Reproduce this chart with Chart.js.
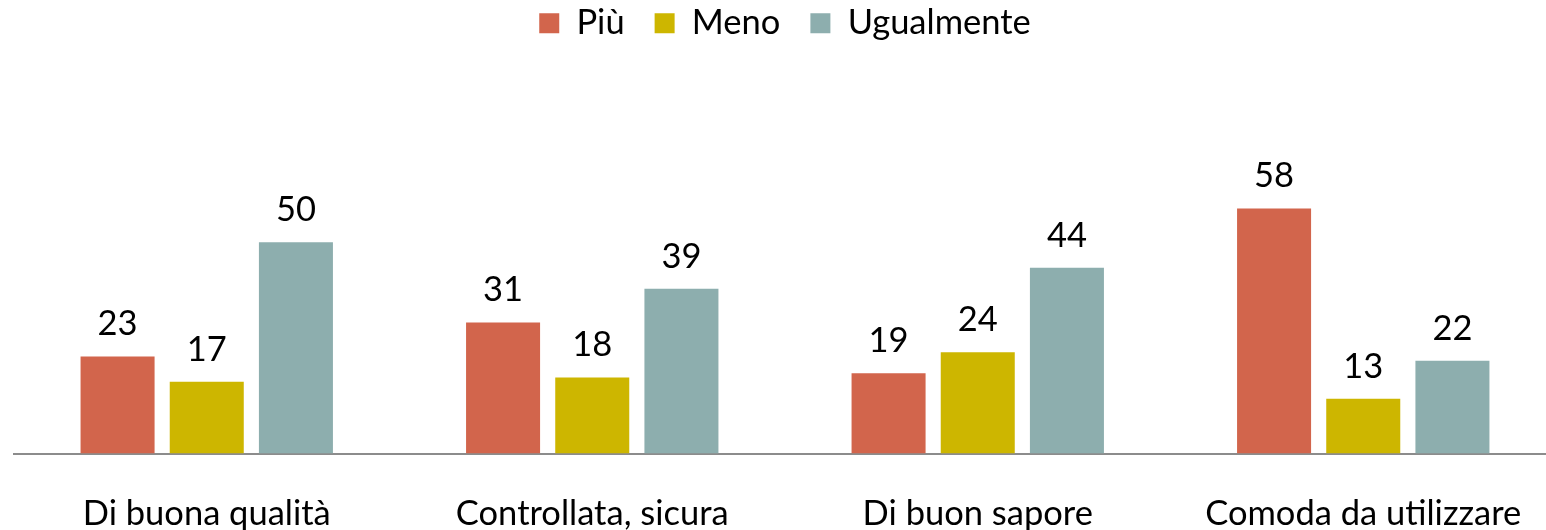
<!DOCTYPE html>
<html>
<head>
<meta charset="utf-8">
<script src="https://cdn.jsdelivr.net/npm/chart.js@4"></script>
<style>
  html, body { margin: 0; padding: 0; background: #fff; overflow: hidden; }
  #wrap { width: 1546px; height: 530px; overflow: hidden; }
  #box { width: 1556px; height: 530px; }
</style>
</head>
<body>
<div id="wrap"><div id="box"><canvas id="grafico"></canvas></div></div>
<script>
const categorie = ["Di buona qualità", "Controllata, sicura", "Di buon sapore", "Comoda da utilizzare"];
const piu = [23, 31, 19, 58];
const meno = [17, 18, 24, 13];
const ugualmente = [50, 39, 44, 22];

const FONT = "Lato";
const SIZE = 34.5;

// etichette con il valore sopra ogni barra
const etichette = {
  id: "etichette",
  afterDatasetsDraw(chart) {
    const ctx = chart.ctx;
    ctx.save();
    ctx.font = `${SIZE}px ${FONT}`;
    ctx.fillStyle = "#000";
    ctx.textAlign = "center";
    ctx.textBaseline = "bottom";
    chart.data.datasets.forEach((ds, i) => {
      chart.getDatasetMeta(i).data.forEach((bar, j) => {
        ctx.fillText(ds.data[j], bar.x, bar.y - 15);
      });
    });
    ctx.restore();
  }
};

new Chart(document.getElementById("grafico"), {
  type: "bar",
  data: {
    labels: categorie,
    datasets: [
      { label: "Più", data: piu, backgroundColor: "#D2654C" },
      { label: "Meno", data: meno, backgroundColor: "#CDB600" },
      { label: "Ugualmente", data: ugualmente, backgroundColor: "#8DAEAE" }
    ]
  },
  options: {
    responsive: true,
    maintainAspectRatio: false,
    animation: false,
    categoryPercentage: 0.694,
    barPercentage: 0.83,
    layout: { padding: { left: 14, right: 0, top: -24, bottom: -37 } },
    plugins: {
      legend: {
        display: true,
        position: "top",
        labels: {
          font: { family: FONT, size: SIZE },
          color: "#000",
          boxWidth: 20,
          boxHeight: 20,
          padding: 30
        }
      },
      tooltip: { enabled: false }
    },
    scales: {
      x: {
        grid: { display: false },
        border: { display: true, color: "#8c8c8c", width: 2 },
        ticks: { font: { family: FONT, size: SIZE }, color: "#000", padding: 32 }
      },
      y: {
        display: false,
        min: 0,
        max: 95.4
      }
    }
  },
  plugins: [etichette]
});
</script>
</body>
</html>
